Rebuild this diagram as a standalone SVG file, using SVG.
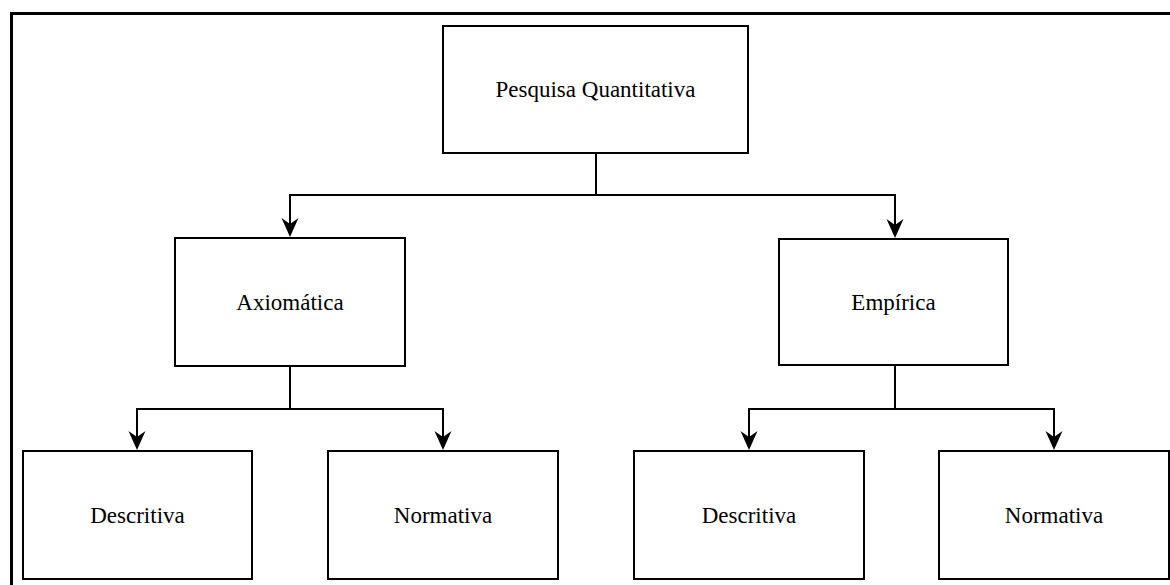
<svg xmlns="http://www.w3.org/2000/svg" width="1170" height="585" viewBox="0 0 1170 585">
  <style>
    .box { fill: #ffffff; stroke: #000000; stroke-width: 2; }
    .label { font-family: "Liberation Serif", "Times New Roman", serif; font-size: 23px; fill: #000000; text-anchor: middle; }
    .wire { fill: none; stroke: #000000; stroke-width: 2; }
    .frame { fill: none; stroke: #000000; stroke-width: 3; }
  </style>
  <defs>
    <!-- notched arrowhead; tip sits 8px beyond the end of the line -->
    <marker id="arrow" markerUnits="userSpaceOnUse" markerWidth="22" markerHeight="20" viewBox="-20 -10 22 20" refX="-8" refY="0" orient="auto">
      <path d="M0,0 L-19,-8.5 L-13,0 L-19,8.5 Z" fill="#000000"/>
    </marker>
  </defs>
  <rect width="1170" height="585" fill="#ffffff"/>
  <!-- outer frame (open on the right and bottom) -->
  <path class="frame" d="M11.5,585 L11.5,13.5 L1170,13.5"/>

  <g id="connectors">
    <!-- root to second level -->
    <path class="wire" d="M596,153 L596,195"/>
    <path class="wire" d="M596,195 L290,195 L290,229" marker-end="url(#arrow)"/>
    <path class="wire" d="M596,195 L895,195 L895,230" marker-end="url(#arrow)"/>
    <!-- Axiomática branch -->
    <path class="wire" d="M290,366 L290,409"/>
    <path class="wire" d="M290,409 L137,409 L137,442" marker-end="url(#arrow)"/>
    <path class="wire" d="M290,409 L443,409 L443,442" marker-end="url(#arrow)"/>
    <!-- Empírica branch -->
    <path class="wire" d="M895,365 L895,409"/>
    <path class="wire" d="M895,409 L749,409 L749,442" marker-end="url(#arrow)"/>
    <path class="wire" d="M895,409 L1054,409 L1054,442" marker-end="url(#arrow)"/>
  </g>

  <g id="node-pesquisa">
    <rect class="box" x="443" y="26" width="305" height="127"/>
    <text class="label" x="595.5" y="97">Pesquisa Quantitativa</text>
  </g>
  <g id="node-axiomatica">
    <rect class="box" x="175" y="238" width="230" height="128"/>
    <text class="label" x="290" y="310">Axiomática</text>
  </g>
  <g id="node-empirica">
    <rect class="box" x="779" y="239" width="229" height="126"/>
    <text class="label" x="893.5" y="310">Empírica</text>
  </g>
  <g id="node-descritiva-1">
    <rect class="box" x="23" y="451" width="229" height="128"/>
    <text class="label" x="137.5" y="523">Descritiva</text>
  </g>
  <g id="node-normativa-1">
    <rect class="box" x="328" y="451" width="230" height="128"/>
    <text class="label" x="443" y="523">Normativa</text>
  </g>
  <g id="node-descritiva-2">
    <rect class="box" x="634" y="451" width="230" height="128"/>
    <text class="label" x="749" y="523">Descritiva</text>
  </g>
  <g id="node-normativa-2">
    <rect class="box" x="939" y="451" width="230" height="128"/>
    <text class="label" x="1054" y="523">Normativa</text>
  </g>
</svg>
